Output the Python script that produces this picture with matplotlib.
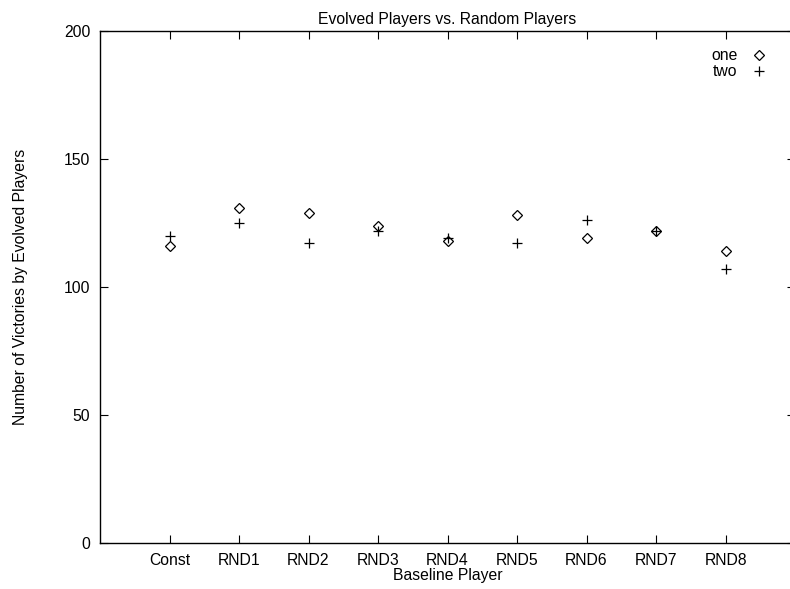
import matplotlib
matplotlib.use("Agg")
import numpy as np
from matplotlib import pyplot as plt

plt.rcParams['font.family'] = ['Liberation Sans', 'DejaVu Sans']

players = ["Const", "RND1", "RND2", "RND3", "RND4", "RND5", "RND6", "RND7", "RND8"]
one = [116, 131, 129, 124, 118, 128, 119, 122, 114]
two = [120, 125, 117, 122, 119, 117, 126, 122, 107]

fs = 11.3

fig = plt.figure(figsize=(7.9, 5.89), dpi=100)
ax = fig.add_axes([100 / 790, 46 / 589, 695 / 790, 512 / 589])

x = np.arange(1, len(players) + 1)
ax.plot(x, one, linestyle="none", marker="D", markersize=5, markerfacecolor="none",
        markeredgecolor="black", markeredgewidth=0.9, label="one")
ax.plot(x, two, linestyle="none", marker="+", markersize=6.5, color="black",
        markeredgewidth=0.9, label="two")

ax.set_xlim(0, 10)
ax.set_ylim(0, 200)
ax.set_xticks(x)
ax.set_xticklabels(players)
ax.set_yticks([0, 50, 100, 150, 200])
ax.tick_params(direction="in", length=6, width=0.8, top=True, right=True,
               labelsize=fs, pad=7)
ax.spines["right"].set_visible(False)
for s in ["left", "bottom", "top"]:
    ax.spines[s].set_linewidth(1.0)

ax.set_title("Evolved Players vs. Random Players", fontsize=fs, pad=5)
ax.set_xlabel("Baseline Player", fontsize=fs, labelpad=0)
ax.set_ylabel("Number of Victories by Evolved Players", fontsize=fs, labelpad=26)

leg = ax.legend(loc="upper right", bbox_to_anchor=(0.960, 0.966),
                frameon=False, markerfirst=False, fontsize=fs, handlelength=1.0,
                handletextpad=0.9, labelspacing=0.05, borderaxespad=0, borderpad=0)
for t in leg.get_texts():
    t.set_ha("right")

fig.savefig("out.png", dpi=100)
